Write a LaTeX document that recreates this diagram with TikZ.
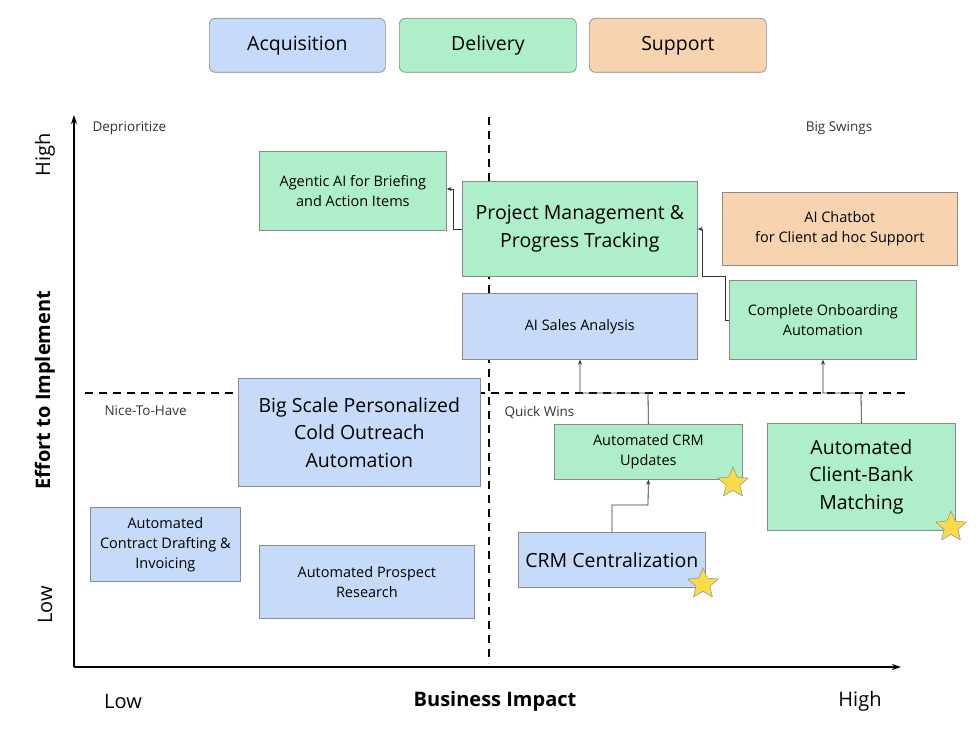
\documentclass[tikz,border=0pt]{standalone}
\usepackage{fontspec}
\setmainfont{Open Sans}
\usetikzlibrary{arrows.meta,shapes.geometric}
\definecolor{acq}{HTML}{C6DBFA}
\definecolor{del}{HTML}{AEEFCA}
\definecolor{sup}{HTML}{F7D3B0}
\definecolor{edge}{HTML}{8A8A8A}
\definecolor{staryel}{HTML}{FBDB4A}
\begin{document}
\begin{tikzpicture}[x=1pt,y=-1pt,
  box/.style={draw=edge,line width=0.7pt,align=center,inner sep=0pt,anchor=north west,font=\fontsize{14.5}{20}\selectfont},
  big/.style={font=\fontsize{19.5}{27.5}\selectfont},
  legend/.style={box,rounded corners=6pt,font=\fontsize{19.5}{24}\selectfont},
  conn/.style={draw=black!80,line width=0.8pt,-{Stealth[length=5pt,width=4pt]}},
  qdash/.style={line width=1.4pt,dash pattern=on 8pt off 6pt},
  lab/.style={font=\fontsize{13.5}{16}\selectfont,text=black!80},
  axis/.style={font=\fontsize{20}{24}\selectfont},
  baxis/.style={font=\bfseries\fontsize{20}{24}\selectfont},
  ystar/.style={star,star points=5,star point ratio=2.2,minimum size=32pt,inner sep=0pt,fill=staryel,draw=black!45,line width=0.5pt}]
\useasboundingbox (0,0) rectangle (980,733);
% legend
\node[legend,fill=acq,minimum width=176pt,minimum height=54pt] (lacq) at (209,18) {Acquisition};
\node[legend,fill=del,minimum width=177pt,minimum height=54pt] (ldel) at (399,18) {Delivery};
\node[legend,fill=sup,minimum width=177pt,minimum height=54pt] (lsup) at (589,18) {Support};
% axes
\coordinate (o) at (74,667);
\coordinate (yt) at (74,115);
\coordinate (xr) at (901,667);
\draw[line width=1.4pt,-{Stealth[length=9pt,width=6pt]}] (o) -- (yt);
\draw[line width=1.4pt,-{Stealth[length=9pt,width=6pt]}] (o) -- (xr);
\coordinate (vt) at (489,117); \coordinate (vb) at (489,663);
\coordinate (hl) at (85,393); \coordinate (hr) at (905,393);
\draw[qdash] (vt) -- (vb);
\draw[qdash] (hl) -- (hr);
% quadrant labels
\node[lab,anchor=west] (q1) at (89,128) {Deprioritize};
\node[lab] (q2) at (839,128) {Big Swings};
\node[lab,anchor=west] (q3) at (101,411) {Nice-To-Have};
\node[lab,anchor=west] (q4) at (501,413) {Quick Wins};
% axis labels
\node[axis,rotate=90] (yh) at (45,155) {High};
\node[axis,rotate=90] (yl) at (45,605) {Low};
\node[baxis,rotate=90] (yn) at (45,390) {Effort to Implement};
\node[axis] (xl) at (123,701) {Low};
\node[baxis] (xn) at (495,701) {Business Impact};
\node[axis] (xh) at (860,701) {High};
% boxes
\node[box,fill=del,minimum width=187pt,minimum height=79pt] (ag) at (259,151) {Agentic AI for Briefing\\and Action Items};
\node[box,big,fill=del,minimum width=235pt,minimum height=95pt] (pm) at (462,181) {Project Management \&\\Progress Tracking};
\node[box,fill=sup,minimum width=235pt,minimum height=73pt] (cb) at (722,192) {AI Chatbot\\for Client ad hoc Support};
\node[box,fill=acq,minimum width=235pt,minimum height=66pt] (sa) at (462,293) {AI Sales Analysis};
\node[box,fill=del,minimum width=187pt,minimum height=79pt] (on) at (729,280) {Complete Onboarding\\Automation};
\node[box,big,fill=acq,minimum width=242pt,minimum height=108pt] (bs) at (238,378) {Big Scale Personalized\\Cold Outreach\\Automation};
\node[box,fill=del,minimum width=188pt,minimum height=55pt] (cu) at (554,424) {Automated CRM\\Updates};
\node[box,big,fill=del,minimum width=188pt,minimum height=107pt] (cbm) at (767,423) {Automated\\Client-Bank\\Matching};
\node[box,fill=acq,minimum width=150pt,minimum height=74pt] (ct) at (90,507) {Automated\\Contract Drafting \&\\Invoicing};
\node[box,fill=acq,minimum width=215pt,minimum height=73pt] (pr) at (259,545) {Automated Prospect\\Research};
\node[box,big,fill=acq,minimum width=187pt,minimum height=55pt] (cc) at (518,532) {CRM Centralization};
% stars
\node[ystar] (s1) at (733,483) {};
\node[ystar] (s2) at (951,527) {};
\node[ystar] (s3) at (703,584) {};
% connectors
\draw[conn] (pm.west |- 0,229) -- (453,229) -- (453,189) -- (ag.east |- 0,189);
\draw[conn] (on.west |- 0,320) -- (725,320) -- (725,276) -- (702,276) -- (702,229) -- (pm.east |- 0,229);
\draw[conn] (cu.north) -- (648,393) -- (580,393) -- (sa.south -| 580,0);
\draw[conn] (cbm.north) -- (861,393) -- (823,393) -- (on.south -| 823,0);
\draw[conn] (cc.north -| 612,0) -- (612,505) -- (648,505) -- (cu.south);
\end{tikzpicture}
\end{document}
